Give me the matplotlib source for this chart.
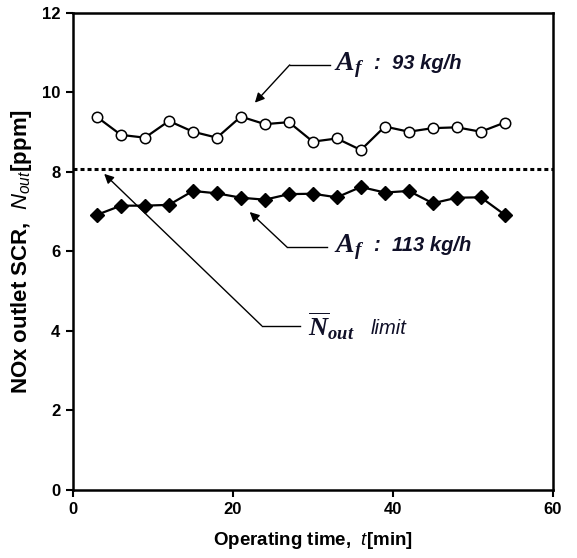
import numpy as np
import matplotlib
matplotlib.use("Agg")
import matplotlib.pyplot as plt

plt.rcParams['font.family'] = ['Liberation Sans', 'DejaVu Sans']
plt.rcParams['mathtext.fontset'] = 'custom'
plt.rcParams['mathtext.it'] = 'Liberation Sans:italic'
plt.rcParams['mathtext.bf'] = 'Liberation Serif:bold'
plt.rcParams['mathtext.bfit'] = 'Liberation Serif:bold:italic'
plt.rcParams['mathtext.rm'] = 'Liberation Sans'

# operating time [min]
time_min = [3, 6, 9, 12, 15, 18, 21, 24, 27, 30, 33, 36, 39, 42, 45, 48, 51, 54]
# Af = 93 kg/h (open circles)
nox_93 = [9.38, 8.93, 8.86, 9.28, 9.01, 8.86, 9.39, 9.20, 9.25, 8.76, 8.84, 8.55,
          9.14, 9.01, 9.10, 9.12, 9.01, 9.24]
# Af = 113 kg/h (filled diamonds)
nox_113 = [6.92, 7.15, 7.15, 7.17, 7.52, 7.46, 7.35, 7.30, 7.44, 7.45, 7.36, 7.62,
           7.48, 7.52, 7.21, 7.35, 7.36, 6.92]
nox_limit = 8.07

fig = plt.figure(figsize=(5.77, 5.58), dpi=100)
ax = fig.add_axes([0.1265, 0.122, 0.8315, 0.855])

ax.plot(time_min, nox_93, '-o', color='black', markerfacecolor='white',
        markeredgecolor='black', markersize=7.5, linewidth=1.6, markeredgewidth=1.1)
ax.plot(time_min, nox_113, '-D', color='black', markersize=7.5, linewidth=1.6)
ax.axhline(nox_limit, color='black', linewidth=2.2, linestyle=(0, (1.3, 1.0)))

ax.set_xlim(0, 60)
ax.set_ylim(0, 12)
ax.set_xticks([0, 20, 40, 60])
ax.set_yticks([0, 2, 4, 6, 8, 10, 12])
for s in ax.spines.values():
    s.set_linewidth(1.8)
ax.tick_params(direction='out', length=5, width=1.5, labelsize=12, pad=4)
for lab in ax.get_xticklabels() + ax.get_yticklabels():
    lab.set_fontweight('bold')

ax.set_xlabel(r'Operating time,  $t$[min]', fontsize=13.5, fontweight='bold', labelpad=9)
ax.set_ylabel(r'NOx outlet SCR,  $N_{out}$[ppm]', fontsize=16, fontweight='bold', labelpad=6)

# annotations
txt_color = '#101028'
arrow_kw = dict(arrowstyle='-|>', color='black', lw=1.0, mutation_scale=14, shrinkA=0, shrinkB=0)

ax.annotate('', xy=(22.75, 9.74), xytext=(27.1, 10.69), arrowprops=arrow_kw)
ax.plot([27.1, 32.1], [10.69, 10.69], color='black', lw=1.0)
ax.text(32.6, 10.69, r'$\mathbfit{A_f}$', fontsize=20, va='center', color=txt_color)
ax.text(37.6, 10.72, ':  93 kg/h', fontsize=14.5, style='italic', fontweight='bold',
        va='center', color=txt_color)

ax.annotate('', xy=(22.1, 6.99), xytext=(26.75, 6.11), arrowprops=arrow_kw)
ax.plot([26.75, 31.75], [6.11, 6.11], color='black', lw=1.0)
ax.text(32.6, 6.11, r'$\mathbfit{A_f}$', fontsize=20, va='center', color=txt_color)
ax.text(37.6, 6.14, ':  113 kg/h', fontsize=14.5, style='italic', fontweight='bold',
        va='center', color=txt_color)

ax.annotate('', xy=(3.9, 7.95), xytext=(23.6, 4.13), arrowprops=arrow_kw)
ax.plot([23.6, 28.4], [4.13, 4.13], color='black', lw=1.0)
ax.text(29.4, 4.13, r'$\overline{\mathbfit{N}}_{\mathbfit{out}}$', fontsize=19,
        va='center', color=txt_color)
ax.text(37.2, 4.05, 'limit', fontsize=14.5, style='italic', va='center', color=txt_color)

plt.savefig('out.png', dpi=100)
